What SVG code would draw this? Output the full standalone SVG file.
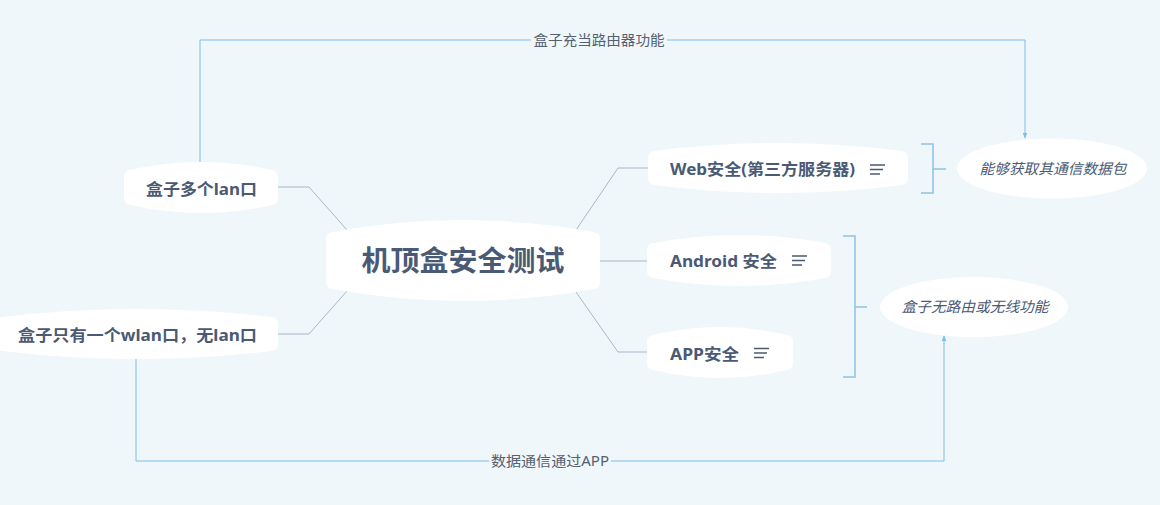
<svg xmlns="http://www.w3.org/2000/svg" width="1160" height="505" viewBox="0 0 1160 505">
<style>
.node{fill:#ffffff}
.t{font-family:"Noto Sans","Noto Sans CJK SC",sans-serif;font-weight:bold;fill:#4A5A74}
.ti{font-family:"Noto Sans","Noto Sans CJK SC",sans-serif;font-style:italic;fill:#4A5A74;font-size:14.5px}
.lbl{font-family:"Noto Sans","Noto Sans CJK SC",sans-serif;fill:#556070;font-size:14px}
.conn{fill:none;stroke:#A9B8C8;stroke-width:1}
.loop{fill:none;stroke:#7DBDE8;stroke-width:1}
.br{fill:none;stroke:#8CC3E8;stroke-width:1.5}
.ic{stroke:#4A5A74;stroke-width:1.5}
</style>
<defs>
<marker id="arr" viewBox="0 0 10 10" refX="9" refY="5" markerWidth="6" markerHeight="6" orient="auto">
<path d="M0,1 L10,5 L0,9 Z" fill="#7DBDE8"/>
</marker>
</defs>
<rect width="1160" height="505" fill="#EFF7FA"/>

<g id="connectors">
<path class="conn" d="M278,187 L309,187 L347,230"/>
<path class="conn" d="M278,334 L309,334 L347,291"/>
<path class="conn" d="M576,230 L618,168 L648,168"/>
<path class="conn" d="M600,261 L647,261"/>
<path class="conn" d="M576,292 L618,352 L647,352"/>
<path class="loop" d="M200,162 L200,40 L1025,40 L1025,138" marker-end="url(#arr)"/>
<path class="loop" d="M136,359 L136,461 L944,461 L944,336" marker-end="url(#arr)"/>
<rect x="531" y="31" width="136" height="18" fill="#EFF7FA"/>
<text class="lbl" x="599" y="45" text-anchor="middle" textLength="131" lengthAdjust="spacingAndGlyphs">盒子充当路由器功能</text>
<rect x="489" y="452" width="122" height="18" fill="#EFF7FA"/>
<text class="lbl" x="550" y="466" text-anchor="middle" textLength="118" lengthAdjust="spacingAndGlyphs">数据通信通过APP</text>
<path class="br" d="M921,144 L933,144 L933,193 L921,193 M933,169 L946,169"/>
<path class="br" d="M843,236 L855,236 L855,377 L843,377 M855,307 L867,307"/>
</g>

<g id="central">
<path class="node" d="M332,232 Q463,208 594,232 Q600,233 600,240 L600,281 Q600,288 594,289 Q463,313 332,289 Q326,288 326,281 L326,240 Q326,233 332,232 Z"/>
<text class="t" x="463" y="271" text-anchor="middle" font-size="28" textLength="203" lengthAdjust="spacingAndGlyphs">机顶盒安全测试</text>
</g>

<g id="web">
<path class="node" d="M654,151 Q778,135 902,151 Q908,152 908,158 L908,178 Q908,184 902,185 Q778,201 654,185 Q648,184 648,178 L648,158 Q648,152 654,151 Z"/>
<text class="t" x="670" y="175" font-size="16" textLength="185" lengthAdjust="spacingAndGlyphs">Web安全(第三方服务器)</text>
<path class="ic" d="M870,165 L885,165 M870,169.5 L883,169.5 M870,174 L880,174"/>
</g>

<g id="android">
<path class="node" d="M653,243 Q739,227 825,243 Q831,244 831,250 L831,271 Q831,277 825,278 Q739,294 653,278 Q647,277 647,271 L647,250 Q647,244 653,243 Z"/>
<text class="t" x="670" y="267" font-size="16" textLength="107" lengthAdjust="spacingAndGlyphs">Android 安全</text>
<path class="ic" d="M792,256 L807,256 M792,260.5 L805,260.5 M792,265 L802,265"/>
</g>

<g id="app">
<path class="node" d="M653,335 Q720,319 787,335 Q793,336 793,342 L793,363 Q793,369 787,370 Q720,386 653,370 Q647,369 647,363 L647,342 Q647,336 653,335 Z"/>
<text class="t" x="670" y="359.5" font-size="16" textLength="69" lengthAdjust="spacingAndGlyphs">APP安全</text>
<path class="ic" d="M754,348.5 L769,348.5 M754,353 L767,353 M754,357.5 L764,357.5"/>
</g>

<g id="lan">
<path class="node" d="M130,170 Q201,154 272,170 Q278,171 278,177 L278,198 Q278,204 272,205 Q201,221 130,205 Q124,204 124,198 L124,177 Q124,171 130,170 Z"/>
<text class="t" x="146" y="194.5" font-size="16" textLength="111" lengthAdjust="spacingAndGlyphs">盒子多个lan口</text>
</g>

<g id="wlan">
<path class="node" d="M2,317 Q137,301 272,317 Q278,318 278,324 L278,344 Q278,350 272,351 Q137,367 2,351 Q-4,350 -4,344 L-4,324 Q-4,318 2,317 Z"/>
<text class="t" x="18" y="340.5" font-size="16" textLength="239" lengthAdjust="spacingAndGlyphs">盒子只有一个wlan口，无lan口</text>
</g>

<g id="packet">
<ellipse class="node" cx="1052" cy="168.5" rx="95" ry="30"/>
<text class="ti" x="1053" y="174" text-anchor="middle" textLength="147" lengthAdjust="spacingAndGlyphs">能够获取其通信数据包</text>
</g>

<g id="noroute">
<ellipse class="node" cx="974" cy="307" rx="94" ry="30"/>
<text class="ti" x="975" y="312" text-anchor="middle" textLength="147" lengthAdjust="spacingAndGlyphs">盒子无路由或无线功能</text>
</g>
</svg>
